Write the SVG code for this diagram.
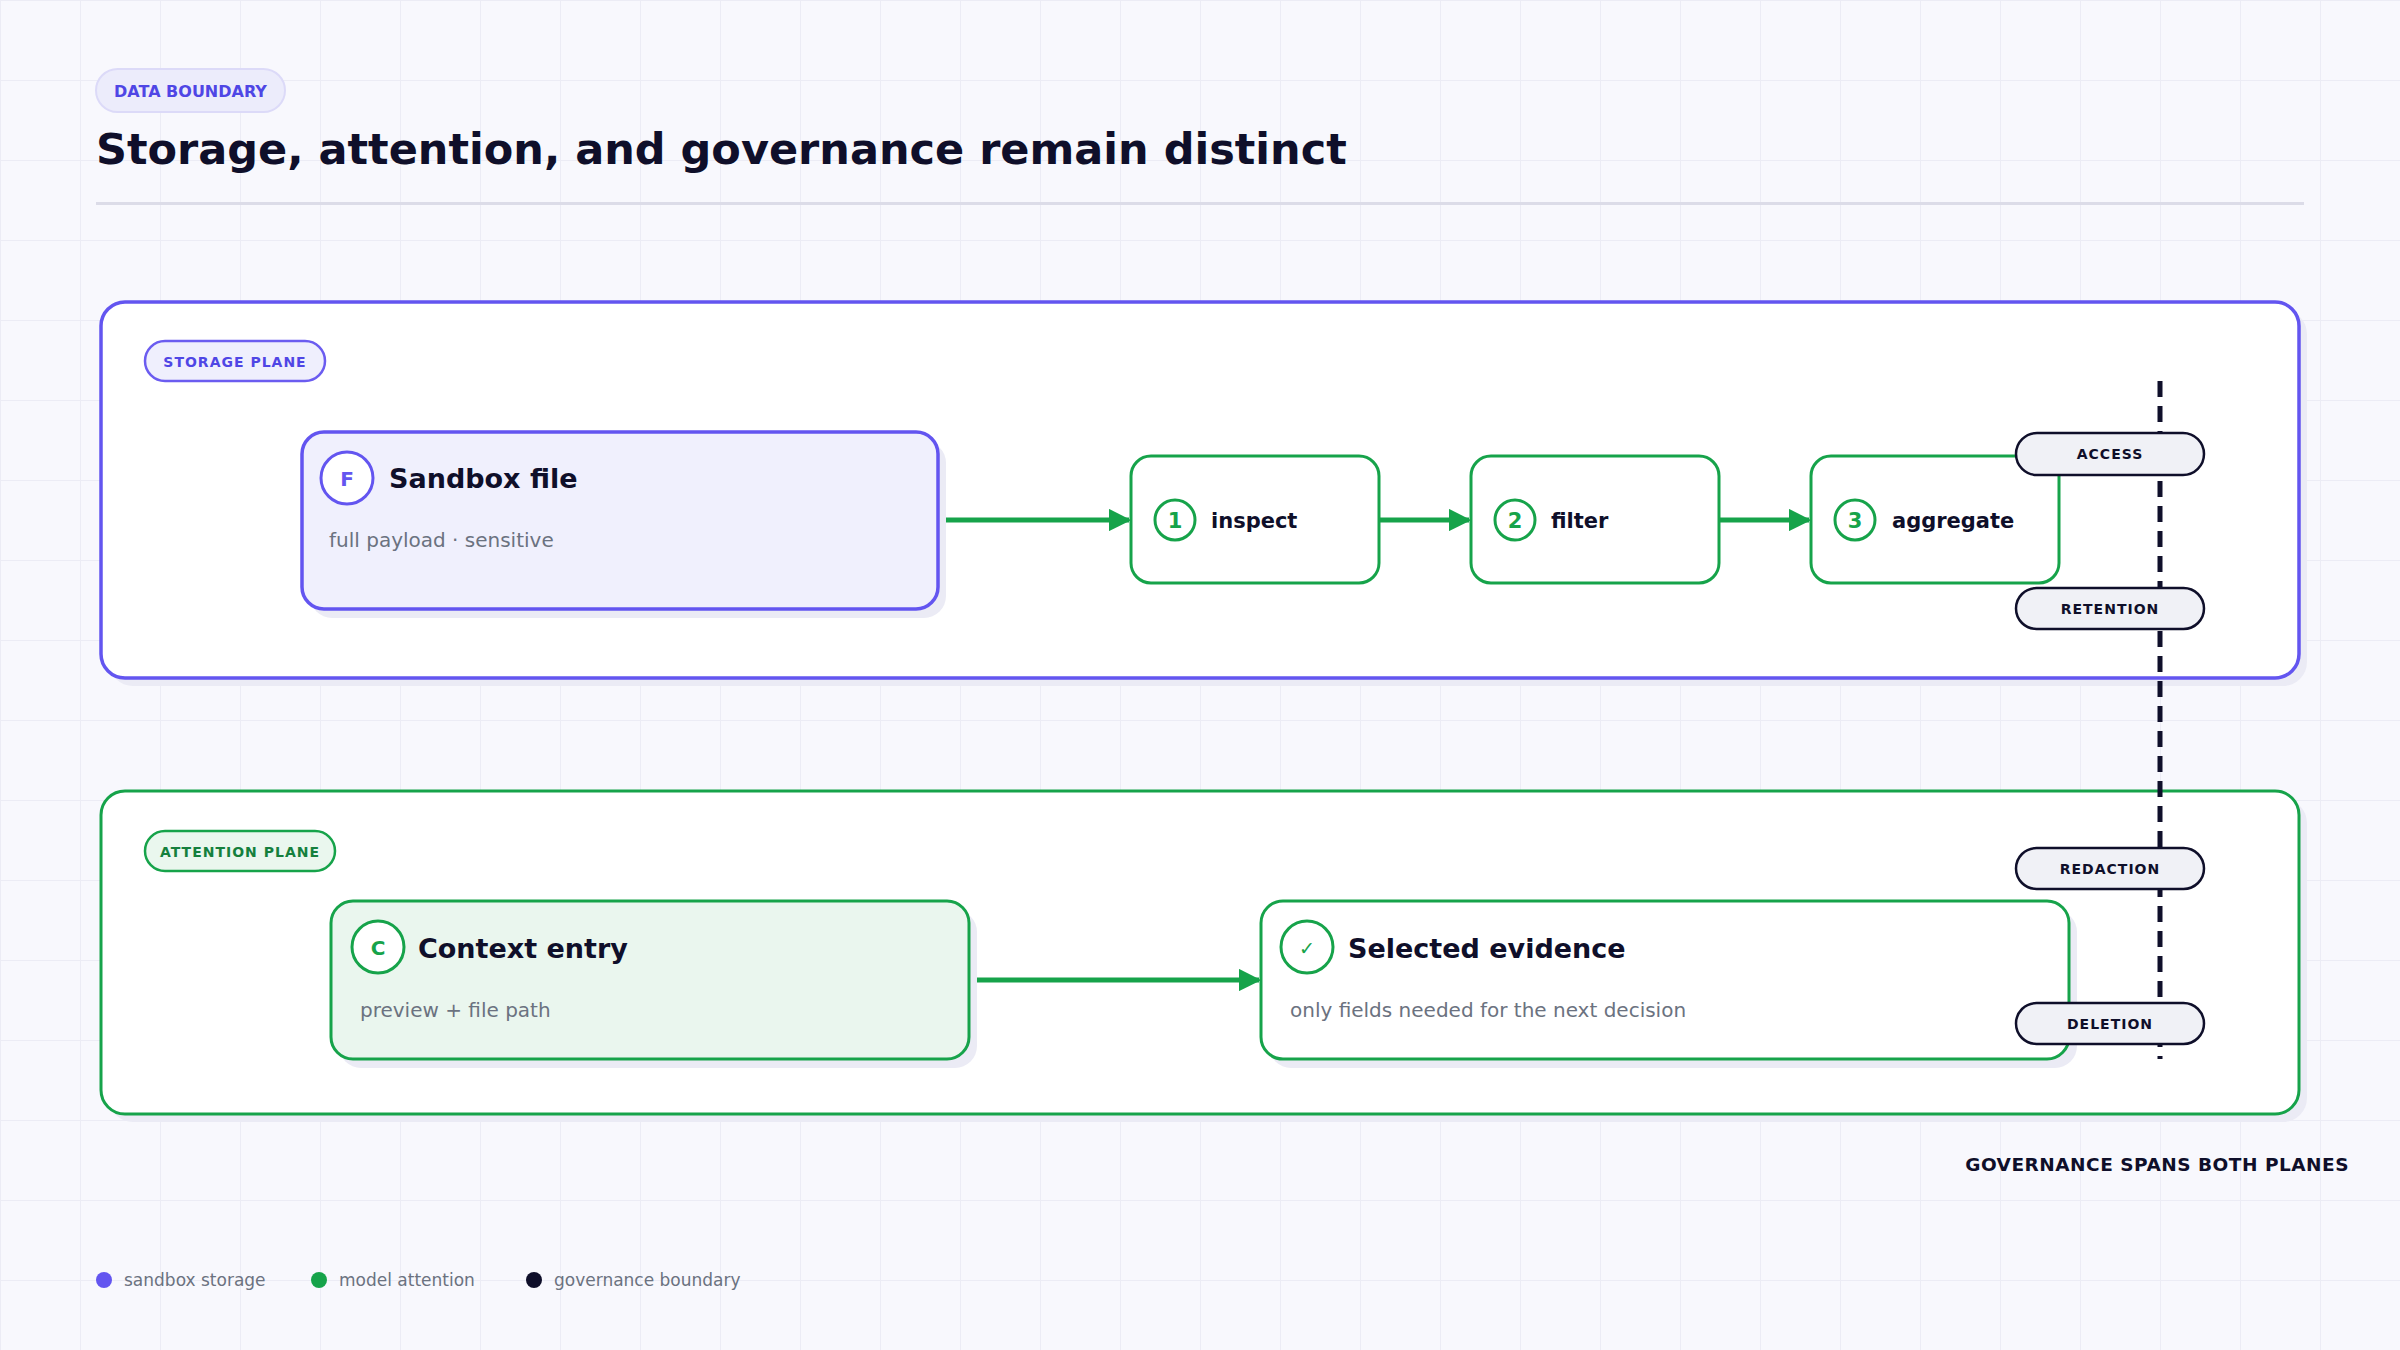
<svg xmlns="http://www.w3.org/2000/svg" width="2400" height="1350" viewBox="0 0 2400 1350">
<defs>
<pattern id="grid" width="80" height="80" patternUnits="userSpaceOnUse"><path d="M80 0H0V80" fill="none" stroke="#ececf5" stroke-width="2"/></pattern>
<marker id="ah" viewBox="0 0 10 10" refX="9" refY="5" markerWidth="4.5" markerHeight="4.5" orient="auto" markerUnits="strokeWidth"><path d="M0 0L10 5L0 10z" fill="#16a34a"/></marker>
</defs>
<style>
text{font-family:"DejaVu Sans",sans-serif}
.b{font-weight:bold}
.sh{fill:#ebebf5}
.pur{stroke:#6355f0;stroke-width:3.5}
.grn{stroke:#16a34a;stroke-width:3}
.conn{stroke:#16a34a;stroke-width:5;fill:none;marker-end:url(#ah)}
.pill rect{fill:#f0f1f6;stroke:#0f0f2a;stroke-width:2.5}
.pill text{font-size:14px;font-weight:bold;fill:#0f0f2a;text-anchor:middle;letter-spacing:1px}
.sub{font-size:20px;fill:#6b7280}
.ttl{font-size:27px;font-weight:bold;fill:#0f0f2a}
.step{font-size:21px;font-weight:bold;fill:#0f0f2a}
.num{font-size:21px;font-weight:bold;fill:#16a34a;text-anchor:middle}
.leg{font-size:17px;fill:#6b7280}
</style>
<rect width="2400" height="1350" fill="#f8f8fd"/>
<rect width="2400" height="1350" fill="url(#grid)"/>
<g id="header">
<rect x="96" y="69" width="189" height="43" rx="21.5" fill="#ececfb" stroke="#dcdaf8" stroke-width="2"/>
<text x="190.5" y="97" font-size="16" class="b" fill="#4f46e5" text-anchor="middle">DATA BOUNDARY</text>
<text x="96" y="164" font-size="43" class="b" fill="#0f0f2a">Storage, attention, and governance remain distinct</text>
<rect x="96" y="202" width="2208" height="3" fill="#dcdce8"/>
</g>
<g id="storage-plane">
<rect x="109" y="310" width="2198" height="376" rx="24" class="sh"/>
<rect x="101" y="302" width="2198" height="376" rx="24" fill="#fff" class="pur"/>
<rect x="145" y="341" width="180" height="40" rx="20" fill="#efeffd" stroke="#6b5cf0" stroke-width="2.5"/>
<text x="235" y="367" font-size="14" class="b" fill="#4f46e5" text-anchor="middle" letter-spacing="1">STORAGE PLANE</text>
</g>
<g id="attention-plane">
<rect x="109" y="799" width="2198" height="323" rx="24" class="sh"/>
<rect x="101" y="791" width="2198" height="323" rx="24" fill="#fff" class="grn" stroke-width="3.5"/>
<rect x="145" y="831" width="190" height="40" rx="20" fill="#eaf7ee" stroke="#16a34a" stroke-width="2.5"/>
<text x="240" y="857" font-size="14" class="b" fill="#15803d" text-anchor="middle" letter-spacing="1">ATTENTION PLANE</text>
</g>
<g id="connectors">
<path class="conn" d="M938 520H1129"/>
<path class="conn" d="M1379 520H1469"/>
<path class="conn" d="M1719 520H1809"/>
<path class="conn" d="M969 980H1259"/>
</g>
<g id="sandbox-file">
<rect x="310" y="441" width="636" height="177" rx="22" class="sh"/>
<rect x="302" y="432" width="636" height="177" rx="22" fill="#f0f0fd" class="pur"/>
<circle cx="347" cy="478" r="26" fill="#fff" stroke="#6355f0" stroke-width="3"/>
<text x="347" y="486" font-size="20" font-weight="bold" fill="#6355f0" text-anchor="middle">F</text>
<text x="389" y="488" class="ttl">Sandbox file</text>
<text x="329" y="547" class="sub">full payload · sensitive</text>
</g>
<g id="inspect">
<rect x="1131" y="456" width="248" height="127" rx="20" fill="#fff" class="grn"/>
<circle cx="1175" cy="520" r="20" fill="#fff" stroke="#16a34a" stroke-width="3"/>
<text x="1175" y="528" class="num">1</text>
<text x="1211" y="528" class="step">inspect</text>
</g>
<g id="filter">
<rect x="1471" y="456" width="248" height="127" rx="20" fill="#fff" class="grn"/>
<circle cx="1515" cy="520" r="20" fill="#fff" stroke="#16a34a" stroke-width="3"/>
<text x="1515" y="528" class="num">2</text>
<text x="1551" y="528" class="step">filter</text>
</g>
<g id="aggregate">
<rect x="1811" y="456" width="248" height="127" rx="20" fill="#fff" class="grn"/>
<circle cx="1855" cy="520" r="20" fill="#fff" stroke="#16a34a" stroke-width="3"/>
<text x="1855" y="528" class="num">3</text>
<text x="1892" y="528" class="step">aggregate</text>
</g>
<g id="context-entry">
<rect x="339" y="910" width="638" height="158" rx="22" class="sh"/>
<rect x="331" y="901" width="638" height="158" rx="22" fill="#eaf6ee" class="grn"/>
<circle cx="378" cy="947" r="26" fill="#fff" stroke="#16a34a" stroke-width="3"/>
<text x="378" y="955" font-size="20" font-weight="bold" fill="#16a34a" text-anchor="middle">C</text>
<text x="418" y="958" class="ttl">Context entry</text>
<text x="360" y="1017" class="sub">preview + file path</text>
</g>
<g id="selected-evidence">
<rect x="1269" y="910" width="808" height="158" rx="22" class="sh"/>
<rect x="1261" y="901" width="808" height="158" rx="22" fill="#fff" class="grn"/>
<circle cx="1307" cy="947" r="26" fill="#fff" stroke="#16a34a" stroke-width="3"/>
<text x="1307" y="955" font-size="19" font-weight="bold" fill="#16a34a" text-anchor="middle">✓</text>
<text x="1348" y="958" class="ttl">Selected evidence</text>
<text x="1290" y="1017" class="sub">only fields needed for the next decision</text>
</g>
<g id="governance">
<path d="M2160 381V1059" stroke="#0f0f2a" stroke-width="5" stroke-dasharray="16 9" fill="none"/>
<g class="pill"><rect x="2016" y="433" width="188" height="42" rx="21"/><text x="2110" y="459">ACCESS</text></g>
<g class="pill"><rect x="2016" y="588" width="188" height="41" rx="20.5"/><text x="2110" y="614">RETENTION</text></g>
<g class="pill"><rect x="2016" y="848" width="188" height="41" rx="20.5"/><text x="2110" y="874">REDACTION</text></g>
<g class="pill"><rect x="2016" y="1003" width="188" height="41" rx="20.5"/><text x="2110" y="1029">DELETION</text></g>
<text x="2349" y="1171" font-size="18.5" class="b" fill="#0f0f2a" text-anchor="end" letter-spacing="0.5">GOVERNANCE SPANS BOTH PLANES</text>
</g>
<g id="legend">
<circle cx="104" cy="1280" r="8" fill="#6355f0"/><text x="124" y="1286" class="leg">sandbox storage</text>
<circle cx="319" cy="1280" r="8" fill="#16a34a"/><text x="339" y="1286" class="leg">model attention</text>
<circle cx="534" cy="1280" r="8" fill="#0f0f2a"/><text x="554" y="1286" class="leg">governance boundary</text>
</g>
</svg>
